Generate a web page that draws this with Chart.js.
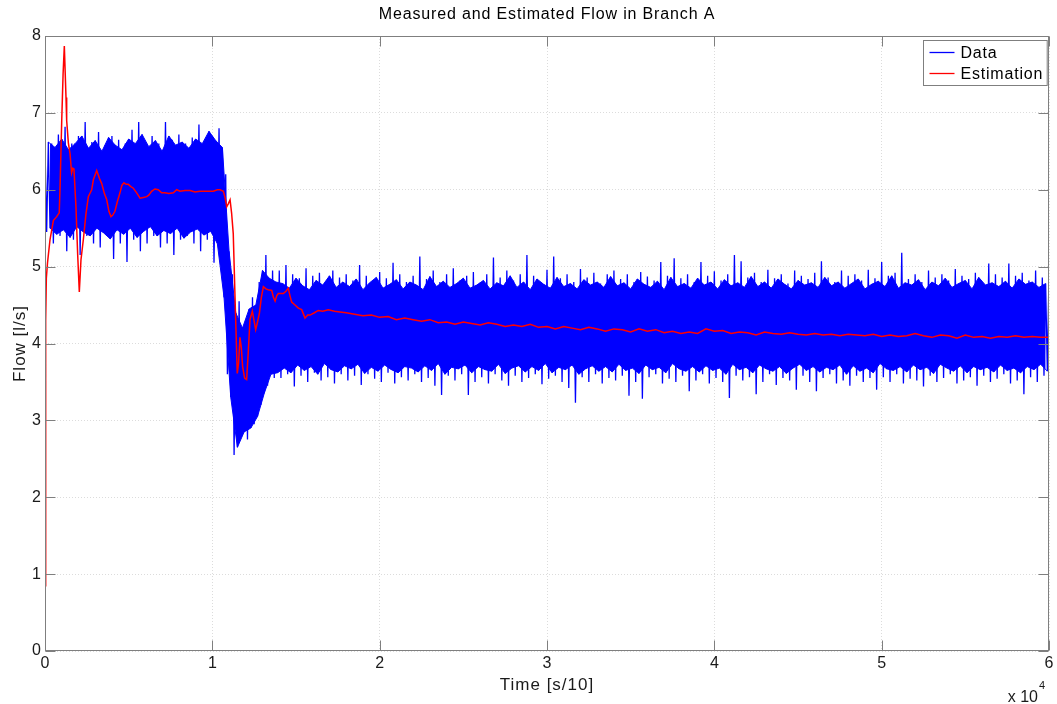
<!DOCTYPE html>
<html>
<head>
<meta charset="utf-8">
<title>Measured and Estimated Flow in Branch A</title>
<script src="https://cdn.jsdelivr.net/npm/chart.js@4.4.1/dist/chart.umd.min.js"></script>
<style>
  html, body { margin: 0; padding: 0; background: #fff; }
  #wrap { width: 1057px; height: 704px; }
</style>
</head>
<body>
<div id="wrap"><canvas id="flowChart" width="1057" height="704"></canvas></div>
<script>
// Branch A flow: noisy measurement (blue) against the estimator output (red).
// Values read off the original MATLAB figure, x in units of s/10.

const FONT = '"Liberation Sans", Arial, Helvetica, sans-serif';
const BLUE = "#0000ff";
const RED = "#ff0000";

const X_TICKS = [0, 10000, 20000, 30000, 40000, 50000, 60000];
const Y_TICKS = [0, 1, 2, 3, 4, 5, 6, 7, 8];

// Measurement: spike extremes. spikeHigh/spikeLow every 400 samples (the tall ones),
// spikeHighMid/spikeLowMid in between (the ragged edge of the solid band).
const SPIKE_STEP = 400;
const spikeHigh = [
  6.55, 6.6, 6.72, 6.82, 6.6, 6.7, 6.88, 6.62, 6.75, 6.58, 6.7, 6.65, 6.6, 6.78, 6.88, 6.62, 6.7, 6.6, 6.88, 6.65,
  6.72, 6.6, 6.68, 6.85, 6.62, 6.7, 6.8,
  6.2, 4.9, 4.55, 4.3, 4.6, 4.8, 5.15, 4.95,
  4.95, 5.02, 4.9, 4.85, 4.98, 4.88, 4.92, 4.8, 4.95, 4.86,
  4.9, 4.82, 5.02, 4.88, 4.78, 4.93, 4.85, 5.05, 4.9, 4.8,
  4.88, 5.13, 4.84, 4.95, 4.8, 4.9, 4.98, 4.82, 4.88, 4.93,
  4.79, 4.9, 5.12, 4.86, 4.95, 4.82, 4.9, 5.15, 4.88, 4.8,
  4.96, 5.13, 4.85, 4.9, 4.8, 4.97, 4.86, 4.92, 4.78, 4.9,
  4.95, 4.84, 4.9, 4.8, 4.93, 4.87, 4.82, 5.06, 4.88, 5.11,
  4.85, 4.9, 4.8, 5.06, 4.88, 4.94, 4.82, 4.9, 5.15, 5.07,
  4.86, 4.92, 4.8, 4.96, 4.85, 4.9, 4.78, 4.95, 4.88, 4.84,
  4.92, 5.07, 4.86, 4.8, 4.95, 4.88, 4.9, 4.82, 4.96, 4.85,
  5.06, 4.88, 4.92, 5.18, 4.84, 4.9, 4.8, 4.95, 4.86, 4.9,
  4.82, 4.97, 4.88, 4.84, 4.92, 4.8, 5.04, 4.9, 4.86, 5.04,
  4.88, 4.92, 4.82, 4.95, 4.86, 4.9
];
const spikeLow = [
  5.45, 5.3, 5.4, 5.2, 5.35, 5.15, 5.4, 5.3, 5.25, 5.4, 5.1, 5.3, 5.06, 5.35, 5.2, 5.3, 5.4, 5.25, 5.3, 5.15,
  5.35, 5.4, 5.3, 5.2, 5.35, 5.05, 5.3,
  3.6, 2.55, 2.8, 2.75, 2.95, 3.2, 3.45, 3.55,
  3.55, 3.6, 3.44, 3.58, 3.5, 3.62, 3.52, 3.56, 3.48, 3.6,
  3.52, 3.58, 3.46, 3.6, 3.54, 3.5, 3.62, 3.48, 3.56, 3.52,
  3.6, 3.5, 3.55, 3.45, 3.33, 3.58, 3.52, 3.6, 3.33, 3.5,
  3.56, 3.48, 3.6, 3.52, 3.45, 3.58, 3.5, 3.55, 3.6, 3.47,
  3.54, 3.58, 3.5, 3.42, 3.23, 3.56, 3.5, 3.6, 3.48, 3.55,
  3.52, 3.58, 3.32, 3.5, 3.28, 3.56, 3.6, 3.48, 3.54, 3.5,
  3.58, 3.38, 3.52, 3.6, 3.48, 3.55, 3.5, 3.29, 3.58, 3.52,
  3.56, 3.34, 3.5, 3.6, 3.46, 3.55, 3.52, 3.4, 3.58, 3.5,
  3.38, 3.55, 3.6, 3.48, 3.52, 3.45, 3.58, 3.5, 3.55, 3.4,
  3.56, 3.5, 3.6, 3.48, 3.54, 3.52, 3.44, 3.58, 3.5, 3.55,
  3.6, 3.48, 3.52, 3.56, 3.45, 3.58, 3.5, 3.54, 3.6, 3.48,
  3.52, 3.34, 3.56, 3.5, 3.58, 3.45
];
const spikeHighMid = [
  6.62, 6.55, 6.66, 6.52, 6.6, 6.7, 6.54, 6.64, 6.5, 6.68, 6.58, 6.52, 6.66, 6.6, 6.72, 6.56, 6.64, 6.5, 6.7, 6.58,
  6.62, 6.54, 6.66, 6.6, 6.76, 6.64,
  6.55,
  5.2, 4.4, 4.2, 4.45, 4.5, 4.95, 4.85, 4.8,
  4.78, 4.72, 4.85, 4.75, 4.7, 4.82, 4.76, 4.88, 4.73, 4.8,
  4.74, 4.84, 4.7, 4.79, 4.86, 4.72, 4.77, 4.83, 4.71, 4.8,
  4.76, 4.7, 4.87, 4.74, 4.81, 4.73, 4.78, 4.85, 4.72, 4.76,
  4.82, 4.71, 4.79, 4.75, 4.88, 4.73, 4.8, 4.7, 4.84, 4.77,
  4.72, 4.86, 4.74, 4.78, 4.71, 4.83, 4.76, 4.8, 4.73, 4.87,
  4.75, 4.79, 4.71, 4.84, 4.77, 4.73, 4.81, 4.7, 4.86, 4.74,
  4.78, 4.72, 4.85, 4.76, 4.8, 4.71, 4.83, 4.75, 4.79, 4.73,
  4.87, 4.74, 4.8, 4.72, 4.84, 4.77, 4.71, 4.82, 4.76, 4.79,
  4.73, 4.86, 4.75, 4.8, 4.72, 4.78, 4.84, 4.71, 4.77, 4.81,
  4.74, 4.88, 4.72, 4.79, 4.76, 4.83, 4.7, 4.8, 4.75, 4.85,
  4.73, 4.78, 4.82, 4.71, 4.86, 4.76, 4.79, 4.74, 4.81, 4.72,
  4.84, 4.77, 4.8, 4.73, 4.78
];
const spikeLowMid = [
  5.5, 5.42, 5.48, 5.38, 5.52, 5.45, 5.4, 5.5, 5.44, 5.36, 5.48, 5.42, 5.5, 5.38, 5.46, 5.52, 5.4, 5.47, 5.43, 5.5,
  5.37, 5.45, 5.49, 5.41, 5.46, 5.3,
  4.6,
  3.3, 2.65, 2.85, 2.9, 3.05, 3.35, 3.6, 3.62,
  3.68, 3.62, 3.72, 3.65, 3.7, 3.6, 3.74, 3.66, 3.63, 3.71,
  3.67, 3.73, 3.61, 3.69, 3.64, 3.72, 3.66, 3.62, 3.7, 3.68,
  3.63, 3.71, 3.65, 3.74, 3.6, 3.69, 3.67, 3.72, 3.62, 3.7,
  3.66, 3.64, 3.73, 3.61, 3.68, 3.71, 3.63, 3.7, 3.65, 3.74,
  3.62, 3.69, 3.66, 3.72, 3.6, 3.67, 3.71, 3.64, 3.7, 3.63,
  3.73, 3.65, 3.68, 3.61, 3.72, 3.66, 3.69, 3.62, 3.74, 3.67,
  3.64, 3.7, 3.63, 3.71, 3.65, 3.68, 3.6, 3.73, 3.66, 3.69,
  3.62, 3.72, 3.67, 3.64, 3.7, 3.61, 3.68, 3.73, 3.65, 3.7,
  3.63, 3.69, 3.66, 3.72, 3.6, 3.71, 3.64, 3.68, 3.62, 3.74,
  3.67, 3.65, 3.7, 3.63, 3.72, 3.66, 3.69, 3.61, 3.73, 3.68,
  3.64, 3.71, 3.62, 3.7, 3.66, 3.69, 3.63, 3.72, 3.65, 3.68,
  3.62, 3.7, 3.66, 3.73, 3.64
];

// Estimator output.
const estX = [
  0, 40, 80, 150, 300, 500, 700, 850, 900, 1000, 1080, 1155, 1255, 1295, 1395, 1495, 1590, 1660, 1730, 1850,
  1950, 2050, 2150, 2290, 2450, 2590, 2790, 2890, 3090, 3250, 3390, 3550, 3690, 3820, 3945, 4050, 4180, 4330, 4480, 4600,
  4720, 4850, 4980, 5130, 5280, 5480, 5680, 5880, 6080, 6200, 6370, 6570, 6770, 6970, 7170, 7400, 7670, 7870, 8070, 8370,
  8670, 8960, 9260, 9660, 10060, 10300, 10460, 10660, 10760, 10860, 10960, 11060, 11150, 11250, 11360, 11490, 11570, 11650, 11730, 11810,
  11930, 12050, 12150, 12250, 12390, 12490, 12590, 12700, 12810, 12930, 13050, 13200, 13340, 13550, 13650, 13750, 13850, 13940, 14240, 14400,
  14540, 14640, 14740, 14940, 15140, 15340, 15540, 15700, 15840, 16100, 16330, 16600, 16930, 17300, 17630,
  18000, 18500, 19000, 19500, 20000, 20500, 21000, 21500, 22000, 22500, 23000, 23500, 24000, 24500, 25000, 25500, 26000, 26500, 27000, 27500,
  28000, 28500, 29000, 29500, 30000, 30500, 31000, 31500, 32000, 32500, 33000, 33500, 34000, 34500, 35000, 35500, 36000, 36500, 37000, 37500,
  38000, 38500, 39000, 39500, 40000, 40500, 41000, 41500, 42000, 42500, 43000, 43500, 44000, 44500, 45000, 45500, 46000, 46500, 47000, 47500,
  48000, 48500, 49000, 49500, 50000, 50500, 51000, 51500, 52000, 52500, 53000, 53500, 54000, 54500, 55000, 55500, 56000, 56500, 57000, 57500,
  58000, 58500, 59000, 59500, 60000
];
const estY = [
  0.85, 4.3, 4.85, 5.05, 5.35, 5.6, 5.65, 5.7, 6.04, 6.9, 7.5, 7.87, 7.2, 6.9, 6.61, 6.47, 6.22, 6.28, 6.27, 5.78,
  5.17, 4.67, 5.09, 5.35, 5.69, 5.91, 6.0, 6.13, 6.25, 6.15, 6.08, 5.95, 5.87, 5.72, 5.65, 5.67, 5.72, 5.85, 5.96, 6.06,
  6.09, 6.07, 6.07, 6.04, 6.02, 5.96, 5.89, 5.9, 5.91, 5.93, 5.98, 6.01, 6.0, 5.96, 5.96, 5.95, 5.96, 6.0, 5.98, 5.99,
  5.99, 5.97, 5.98, 5.98, 5.98, 6.0, 6.0, 5.98, 5.9, 5.78, 5.82, 5.87, 5.7, 5.43, 4.57, 3.61, 3.75, 4.08, 3.95, 3.7,
  3.55, 3.53, 3.9, 4.31, 4.42, 4.3, 4.18, 4.28, 4.39, 4.6, 4.74, 4.71, 4.7, 4.69, 4.6, 4.55, 4.62, 4.65, 4.65, 4.68,
  4.72, 4.62, 4.54, 4.5, 4.46, 4.44, 4.33, 4.37, 4.37, 4.4, 4.43, 4.42, 4.44, 4.42, 4.41,
  4.4, 4.38, 4.36, 4.37, 4.34, 4.35, 4.31, 4.33, 4.31, 4.29, 4.31, 4.27, 4.28, 4.25, 4.28, 4.26, 4.24, 4.27, 4.25, 4.22,
  4.24, 4.22, 4.25, 4.21, 4.22, 4.19, 4.22, 4.2, 4.18, 4.21, 4.19, 4.16, 4.19, 4.18, 4.15, 4.19, 4.16, 4.18, 4.14, 4.16,
  4.13, 4.15, 4.13, 4.19, 4.16, 4.17, 4.13, 4.15, 4.14, 4.11, 4.15, 4.13, 4.12, 4.14, 4.12, 4.11, 4.13, 4.11, 4.12, 4.1,
  4.12, 4.11, 4.1, 4.12, 4.09, 4.11, 4.09, 4.1, 4.13, 4.1, 4.08, 4.11, 4.1, 4.07, 4.11, 4.08, 4.09, 4.07, 4.09, 4.08,
  4.1, 4.08, 4.09, 4.08, 4.08
];

// ---- build datasets ----
const xAt = (i, frac) => i * SPIKE_STEP + SPIKE_STEP * frac;

// solid band: filled between the ragged mid-level highs and lows
const bandTop = spikeHighMid.map((v, i) => ({ x: xAt(i, 0.5), y: v }));
const bandBottom = spikeLowMid.map((v, i) => ({ x: xAt(i, 0.75), y: v }));

// zig-zag through all extremes: high, low, mid high, mid low ...
const spikePts = [];
spikeHigh.forEach((h, i) => {
  spikePts.push({ x: xAt(i, 0), y: h });
  spikePts.push({ x: xAt(i, 0.25), y: spikeLow[i] });
  if (i < spikeHighMid.length) {
    spikePts.push({ x: xAt(i, 0.5), y: spikeHighMid[i] });
    spikePts.push({ x: xAt(i, 0.75), y: spikeLowMid[i] });
  }
});

const datasets = [
  { label: "Estimation", legend: true, data: estX.map((x, i) => ({ x, y: estY[i] })), borderColor: RED, borderWidth: 1.5, pointRadius: 0, fill: false },
  { label: "band-top", data: bandTop, borderColor: BLUE, borderWidth: 1, pointRadius: 0, backgroundColor: BLUE, fill: "+1" },
  { label: "band-bottom", data: bandBottom, borderColor: BLUE, borderWidth: 1, pointRadius: 0, fill: false },
  { label: "Data", legend: true, data: spikePts, borderColor: BLUE, borderWidth: 1.3, pointRadius: 0, fill: false },
];

function spacedText(ctx, text, x, y, spacing) {
  ctx.letterSpacing = spacing;
  ctx.fillText(text, x, y);
  ctx.letterSpacing = "0px";
}

// MATLAB style box, inward tick marks, title, axis labels and the x10^4 multiplier.
const matlabAxes = {
  id: "matlabAxes",
  afterDatasetsDraw(chart) {
    const { ctx, chartArea: a, scales: { x, y } } = chart;
    const L = Math.round(a.left) + 0.5, R = Math.round(a.right) - 0.5;
    const T = Math.round(a.top) + 0.5, B = Math.round(a.bottom) - 0.5;
    const TICK = 10;
    ctx.save();
    ctx.strokeStyle = "#7f7f7f";
    ctx.lineWidth = 1;
    ctx.beginPath();
    X_TICKS.forEach(v => {
      const px = Math.round(x.getPixelForValue(v)) + 0.5;
      ctx.moveTo(px, B); ctx.lineTo(px, B - TICK);
      ctx.moveTo(px, T); ctx.lineTo(px, T + TICK);
    });
    Y_TICKS.forEach(v => {
      const py = Math.round(y.getPixelForValue(v)) + 0.5;
      ctx.moveTo(L, py); ctx.lineTo(L + TICK, py);
      ctx.moveTo(R, py); ctx.lineTo(R - TICK, py);
    });
    ctx.stroke();
    ctx.strokeRect(L, T, R - L, B - T);
    ctx.restore();
  },
  afterDraw(chart) {
    const { ctx, chartArea: a } = chart;
    const cx = (a.left + a.right) / 2;
    ctx.save();
    ctx.fillStyle = "#000";
    ctx.font = "16px " + FONT;
    ctx.textAlign = "center";
    ctx.textBaseline = "alphabetic";
    spacedText(ctx, "Measured and Estimated Flow in Branch A", cx, 19, "0.85px");

    ctx.fillStyle = "#1a1a1a";
    ctx.font = "17px " + FONT;
    spacedText(ctx, "Time [s/10]", cx, 690, "1px");
    ctx.save();
    ctx.translate(25, (a.top + a.bottom) / 2);
    ctx.rotate(-Math.PI / 2);
    spacedText(ctx, "Flow [l/s]", 0, 0, "1px");
    ctx.restore();

    ctx.font = "16px " + FONT;
    ctx.textAlign = "right";
    ctx.fillText("x 10", a.right - 11, 702);
    ctx.font = "11px " + FONT;
    ctx.textAlign = "left";
    ctx.fillText("4", a.right - 10, 689);
    ctx.restore();
  },
};

// Legend box drawn inside the axes, top right, like MATLAB's 'NorthEast'.
const boxLegend = {
  id: "boxLegend",
  afterDraw(chart) {
    const { ctx, chartArea: a } = chart;
    const items = chart.data.datasets.filter(d => d.legend).reverse();
    ctx.save();
    ctx.font = "16px " + FONT;
    ctx.letterSpacing = "0.8px";
    const textW = Math.max(...items.map(d => ctx.measureText(d.label).width));
    const rowH = 21, lineW = 25;
    const w = 6 + lineW + 6 + textW + 4;
    const h = items.length * rowH + 3;
    const left = Math.round(a.right - 2 - w) + 0.5, top = Math.round(a.top + 4) + 0.5;
    ctx.fillStyle = "#fff";
    ctx.fillRect(left, top, w, h);
    ctx.strokeStyle = "#7f7f7f";
    ctx.lineWidth = 1;
    ctx.strokeRect(left, top, w, h);
    items.forEach((d, i) => {
      const cy = top + 12 + i * rowH;
      ctx.strokeStyle = d.borderColor;
      ctx.lineWidth = 1.3;
      ctx.beginPath();
      ctx.moveTo(left + 6, cy);
      ctx.lineTo(left + 6 + lineW, cy);
      ctx.stroke();
      ctx.fillStyle = "#000";
      ctx.textBaseline = "middle";
      ctx.fillText(d.label, left + 6 + lineW + 6, cy + 1);
    });
    ctx.restore();
  },
};

new Chart(document.getElementById("flowChart"), {
  type: "line",
  data: { datasets },
  plugins: [matlabAxes, boxLegend],
  options: {
    responsive: false,
    animation: false,
    events: [],
    layout: { padding: { top: 36, right: 8, left: 0, bottom: 0 } },
    elements: { line: { tension: 0 } },
    plugins: {
      legend: { display: false },
      title: { display: false },
      tooltip: { enabled: false },
    },
    scales: {
      x: {
        type: "linear",
        min: 0, max: 60000,
        afterFit: s => { s.height = 53; },
        afterBuildTicks: s => { s.ticks = X_TICKS.map(v => ({ value: v })); },
        ticks: { callback: v => v / 10000, color: "#1a1a1a", font: { family: FONT, size: 16 }, padding: 3, maxRotation: 0 },
        grid: { color: "#dcdcdc", drawTicks: false },
        border: { display: false, dash: [1, 2] },
      },
      y: {
        type: "linear",
        min: 0, max: 8,
        afterFit: s => { s.width = 45; },
        afterBuildTicks: s => { s.ticks = Y_TICKS.map(v => ({ value: v })); },
        ticks: { color: "#1a1a1a", font: { family: FONT, size: 16 }, padding: 4 },
        grid: { color: "#dcdcdc", drawTicks: false },
        border: { display: false, dash: [1, 2] },
      },
    },
  },
});
</script>
</body>
</html>
